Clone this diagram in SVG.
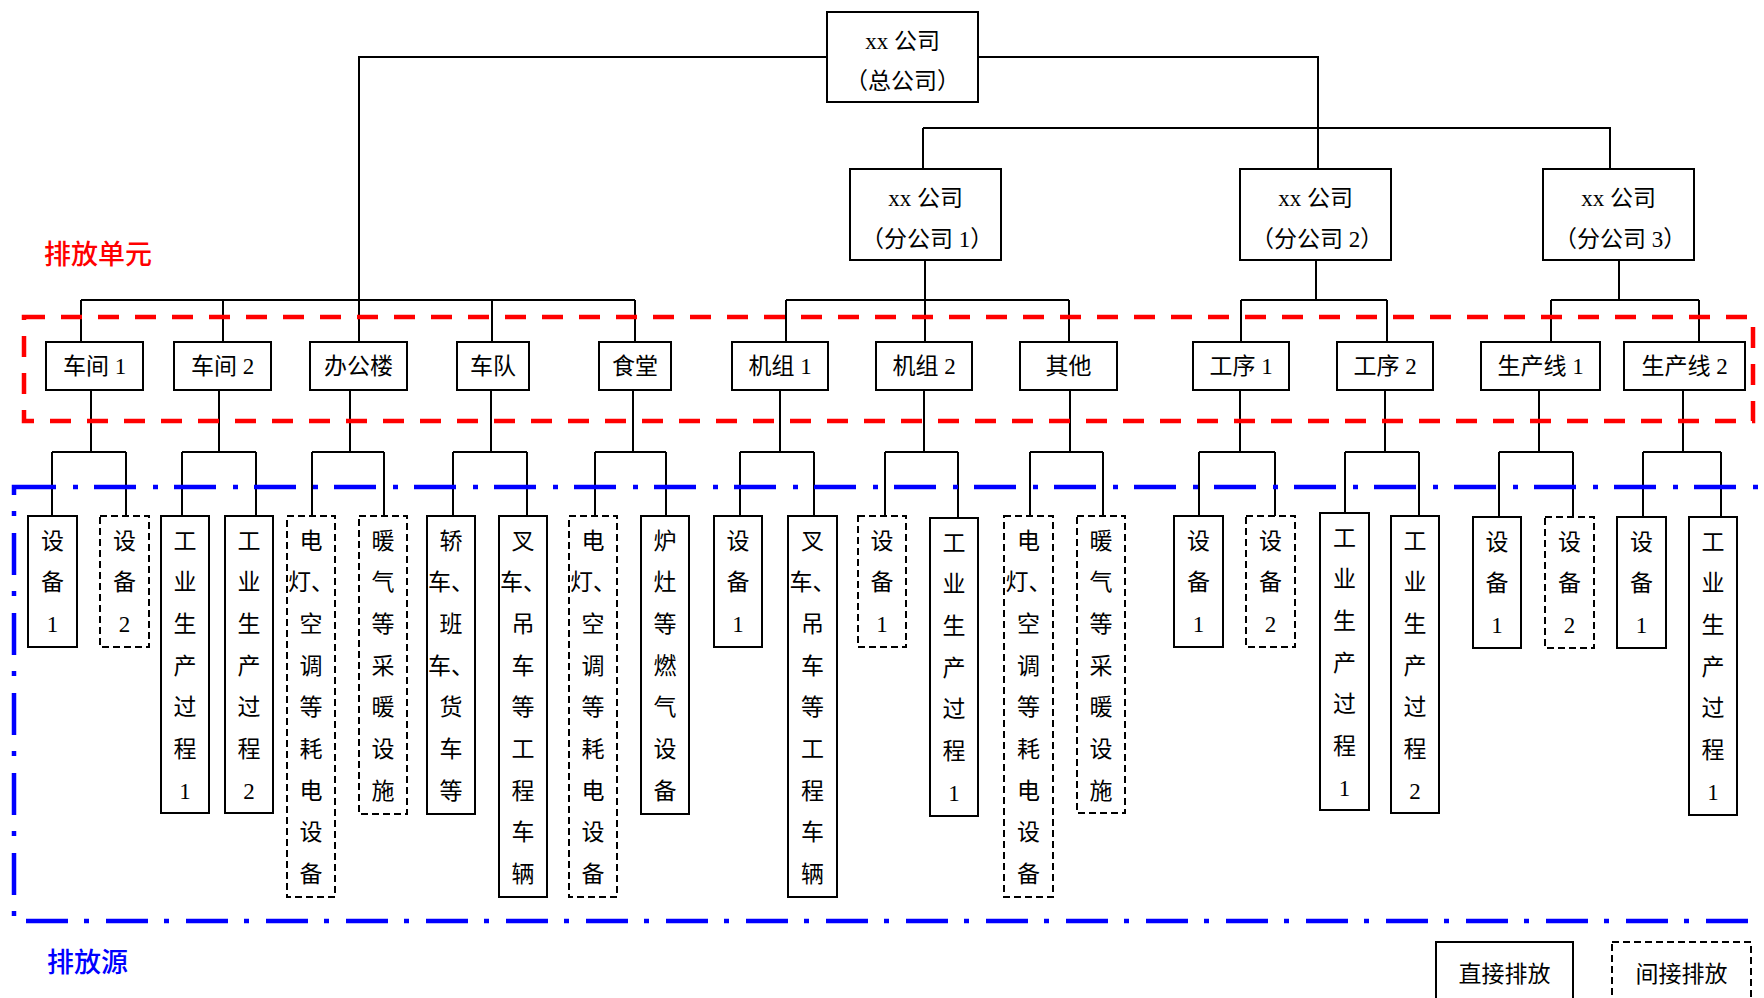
<svg xmlns="http://www.w3.org/2000/svg" width="1764" height="998" viewBox="0 0 1764 998">
<style>
.b{fill:#fff;stroke:#000;stroke-width:2}
.d{fill:#fff;stroke:#000;stroke-width:2;stroke-dasharray:7 4}
.c{fill:none;stroke:#000;stroke-width:2}
.t{font-family:'Liberation Serif','Noto Sans CJK SC',serif;font-size:23px;text-anchor:middle;fill:#000}
.lab{font-family:'Noto Sans CJK SC',sans-serif;font-size:27px;font-weight:500}
</style>
<rect width="1764" height="998" fill="#fff"/>
<g id="connectors" class="c">
<path d="M827 57H359V342M978 57H1318V169M923 128H1610V169M923 128V169"/>
<path d="M81 300H635M81 300V342M223 300V342M492 300V342M635 300V342"/>
<path d="M925 260V342M786 300H1069M786 300V342M1069 300V342"/>
<path d="M1316 260V300M1241 300H1387M1241 300V342M1387 300V342"/>
<path d="M1619 260V300M1551 300H1699M1551 300V342M1699 300V342"/>
<path d="M91 390V452M52 452H126M52 452V516M126 452V516"/>
<path d="M219 390V452M182 452H256M182 452V516M256 452V516"/>
<path d="M350 390V452M312 452H384M312 452V516M384 452V516"/>
<path d="M491 390V452M453 452H527M453 452V516M527 452V516"/>
<path d="M633 390V452M595 452H666M595 452V516M666 452V516"/>
<path d="M780 390V452M740 452H814M740 452V516M814 452V516"/>
<path d="M924 390V452M885 452H958M885 452V516M958 452V518"/>
<path d="M1070 390V452M1030 452H1103M1030 452V516M1103 452V516"/>
<path d="M1240 390V452M1199 452H1275M1199 452V516M1275 452V516"/>
<path d="M1385 390V452M1345 452H1419M1345 452V513M1419 452V516"/>
<path d="M1539 390V452M1499 452H1573M1499 452V517M1573 452V517"/>
<path d="M1683 390V452M1643 452H1721M1643 452V517M1721 452V517"/>
</g>
<g id="regions">
<rect x="24" y="317" width="1729" height="104" fill="none" stroke="#f00" stroke-width="4.5" stroke-dasharray="21 16"/>
<rect x="14" y="487" width="1770" height="434" fill="none" stroke="#00f" stroke-width="4.5" stroke-dasharray="42 17 5 16"/>
<text class="lab" x="44" y="264" fill="#f00">排放单元</text>
<text class="lab" x="47" y="972" fill="#00f">排放源</text>
</g>
<g id="hq"><rect class="b" x="827" y="12" width="151" height="90"/><text class="t" x="902.5" y="49">xx 公司</text><text class="t" x="902.5" y="89">（总公司）</text></g>
<g id="sub1"><rect class="b" x="850" y="169" width="151" height="91"/><text class="t" x="925.5" y="206">xx 公司</text><text class="t" x="927" y="247">（分公司 1）</text></g>
<g id="sub2"><rect class="b" x="1240" y="169" width="151" height="91"/><text class="t" x="1315.5" y="206">xx 公司</text><text class="t" x="1317" y="247">（分公司 2）</text></g>
<g id="sub3"><rect class="b" x="1543" y="169" width="151" height="91"/><text class="t" x="1618.5" y="206">xx 公司</text><text class="t" x="1620" y="247">（分公司 3）</text></g>
<g id="u1"><rect class="b" x="46" y="342" width="97" height="48"/><text class="t" x="94.5" y="374">车间 1</text></g>
<g id="u2"><rect class="b" x="174" y="342" width="97" height="48"/><text class="t" x="222.5" y="374">车间 2</text></g>
<g id="u3"><rect class="b" x="310" y="342" width="97" height="48"/><text class="t" x="358.5" y="374">办公楼</text></g>
<g id="u4"><rect class="b" x="457" y="342" width="72" height="48"/><text class="t" x="493" y="374">车队</text></g>
<g id="u5"><rect class="b" x="599" y="342" width="72" height="48"/><text class="t" x="635" y="374">食堂</text></g>
<g id="u6"><rect class="b" x="732" y="342" width="96" height="48"/><text class="t" x="780" y="374">机组 1</text></g>
<g id="u7"><rect class="b" x="876" y="342" width="96" height="48"/><text class="t" x="924" y="374">机组 2</text></g>
<g id="u8"><rect class="b" x="1020" y="342" width="97" height="48"/><text class="t" x="1068.5" y="374">其他</text></g>
<g id="u9"><rect class="b" x="1193" y="342" width="96" height="48"/><text class="t" x="1241" y="374">工序 1</text></g>
<g id="u10"><rect class="b" x="1337" y="342" width="96" height="48"/><text class="t" x="1385" y="374">工序 2</text></g>
<g id="u11"><rect class="b" x="1481" y="342" width="119" height="48"/><text class="t" x="1540.5" y="374">生产线 1</text></g>
<g id="u12"><rect class="b" x="1624" y="342" width="121" height="48"/><text class="t" x="1684.5" y="374">生产线 2</text></g>
<g id="s1"><rect class="b" x="28" y="516" width="49" height="131"/><text class="t" x="52.5" y="548.5">设</text><text class="t" x="52.5" y="590.2">备</text><text class="t" x="52.5" y="631.9">1</text></g>
<g id="s2"><rect class="d" x="100" y="516" width="49" height="131"/><text class="t" x="124.5" y="548.5">设</text><text class="t" x="124.5" y="590.2">备</text><text class="t" x="124.5" y="631.9">2</text></g>
<g id="s3"><rect class="b" x="161" y="516" width="48" height="297"/><text class="t" x="185" y="548.5">工</text><text class="t" x="185" y="590.2">业</text><text class="t" x="185" y="631.9">生</text><text class="t" x="185" y="673.6">产</text><text class="t" x="185" y="715.3">过</text><text class="t" x="185" y="757">程</text><text class="t" x="185" y="798.7">1</text></g>
<g id="s4"><rect class="b" x="225" y="516" width="48" height="297"/><text class="t" x="249" y="548.5">工</text><text class="t" x="249" y="590.2">业</text><text class="t" x="249" y="631.9">生</text><text class="t" x="249" y="673.6">产</text><text class="t" x="249" y="715.3">过</text><text class="t" x="249" y="757">程</text><text class="t" x="249" y="798.7">2</text></g>
<g id="s5"><rect class="d" x="287" y="516" width="48" height="381"/><text class="t" x="311" y="548.5">电</text><text class="t" x="311" y="590.2">灯、</text><text class="t" x="311" y="631.9">空</text><text class="t" x="311" y="673.6">调</text><text class="t" x="311" y="715.3">等</text><text class="t" x="311" y="757">耗</text><text class="t" x="311" y="798.7">电</text><text class="t" x="311" y="840.4">设</text><text class="t" x="311" y="882.1">备</text></g>
<g id="s6"><rect class="d" x="359" y="516" width="48" height="298"/><text class="t" x="383" y="548.5">暖</text><text class="t" x="383" y="590.2">气</text><text class="t" x="383" y="631.9">等</text><text class="t" x="383" y="673.6">采</text><text class="t" x="383" y="715.3">暖</text><text class="t" x="383" y="757">设</text><text class="t" x="383" y="798.7">施</text></g>
<g id="s7"><rect class="b" x="427" y="516" width="48" height="298"/><text class="t" x="451" y="548.5">轿</text><text class="t" x="451" y="590.2">车、</text><text class="t" x="451" y="631.9">班</text><text class="t" x="451" y="673.6">车、</text><text class="t" x="451" y="715.3">货</text><text class="t" x="451" y="757">车</text><text class="t" x="451" y="798.7">等</text></g>
<g id="s8"><rect class="b" x="499" y="516" width="48" height="381"/><text class="t" x="523" y="548.5">叉</text><text class="t" x="523" y="590.2">车、</text><text class="t" x="523" y="631.9">吊</text><text class="t" x="523" y="673.6">车</text><text class="t" x="523" y="715.3">等</text><text class="t" x="523" y="757">工</text><text class="t" x="523" y="798.7">程</text><text class="t" x="523" y="840.4">车</text><text class="t" x="523" y="882.1">辆</text></g>
<g id="s9"><rect class="d" x="569" y="516" width="48" height="381"/><text class="t" x="593" y="548.5">电</text><text class="t" x="593" y="590.2">灯、</text><text class="t" x="593" y="631.9">空</text><text class="t" x="593" y="673.6">调</text><text class="t" x="593" y="715.3">等</text><text class="t" x="593" y="757">耗</text><text class="t" x="593" y="798.7">电</text><text class="t" x="593" y="840.4">设</text><text class="t" x="593" y="882.1">备</text></g>
<g id="s10"><rect class="b" x="641" y="516" width="48" height="298"/><text class="t" x="665" y="548.5">炉</text><text class="t" x="665" y="590.2">灶</text><text class="t" x="665" y="631.9">等</text><text class="t" x="665" y="673.6">燃</text><text class="t" x="665" y="715.3">气</text><text class="t" x="665" y="757">设</text><text class="t" x="665" y="798.7">备</text></g>
<g id="s11"><rect class="b" x="714" y="516" width="48" height="131"/><text class="t" x="738" y="548.5">设</text><text class="t" x="738" y="590.2">备</text><text class="t" x="738" y="631.9">1</text></g>
<g id="s12"><rect class="b" x="788" y="516" width="49" height="381"/><text class="t" x="812.5" y="548.5">叉</text><text class="t" x="812.5" y="590.2">车、</text><text class="t" x="812.5" y="631.9">吊</text><text class="t" x="812.5" y="673.6">车</text><text class="t" x="812.5" y="715.3">等</text><text class="t" x="812.5" y="757">工</text><text class="t" x="812.5" y="798.7">程</text><text class="t" x="812.5" y="840.4">车</text><text class="t" x="812.5" y="882.1">辆</text></g>
<g id="s13"><rect class="d" x="858" y="516" width="48" height="131"/><text class="t" x="882" y="548.5">设</text><text class="t" x="882" y="590.2">备</text><text class="t" x="882" y="631.9">1</text></g>
<g id="s14"><rect class="b" x="930" y="518" width="48" height="298"/><text class="t" x="954" y="550.5">工</text><text class="t" x="954" y="592.2">业</text><text class="t" x="954" y="633.9">生</text><text class="t" x="954" y="675.6">产</text><text class="t" x="954" y="717.3">过</text><text class="t" x="954" y="759">程</text><text class="t" x="954" y="800.7">1</text></g>
<g id="s15"><rect class="d" x="1004" y="516" width="49" height="381"/><text class="t" x="1028.5" y="548.5">电</text><text class="t" x="1028.5" y="590.2">灯、</text><text class="t" x="1028.5" y="631.9">空</text><text class="t" x="1028.5" y="673.6">调</text><text class="t" x="1028.5" y="715.3">等</text><text class="t" x="1028.5" y="757">耗</text><text class="t" x="1028.5" y="798.7">电</text><text class="t" x="1028.5" y="840.4">设</text><text class="t" x="1028.5" y="882.1">备</text></g>
<g id="s16"><rect class="d" x="1077" y="516" width="48" height="297"/><text class="t" x="1101" y="548.5">暖</text><text class="t" x="1101" y="590.2">气</text><text class="t" x="1101" y="631.9">等</text><text class="t" x="1101" y="673.6">采</text><text class="t" x="1101" y="715.3">暖</text><text class="t" x="1101" y="757">设</text><text class="t" x="1101" y="798.7">施</text></g>
<g id="s17"><rect class="b" x="1174" y="516" width="49" height="131"/><text class="t" x="1198.5" y="548.5">设</text><text class="t" x="1198.5" y="590.2">备</text><text class="t" x="1198.5" y="631.9">1</text></g>
<g id="s18"><rect class="d" x="1246" y="516" width="49" height="131"/><text class="t" x="1270.5" y="548.5">设</text><text class="t" x="1270.5" y="590.2">备</text><text class="t" x="1270.5" y="631.9">2</text></g>
<g id="s19"><rect class="b" x="1320" y="513" width="49" height="297"/><text class="t" x="1344.5" y="545.5">工</text><text class="t" x="1344.5" y="587.2">业</text><text class="t" x="1344.5" y="628.9">生</text><text class="t" x="1344.5" y="670.6">产</text><text class="t" x="1344.5" y="712.3">过</text><text class="t" x="1344.5" y="754">程</text><text class="t" x="1344.5" y="795.7">1</text></g>
<g id="s20"><rect class="b" x="1391" y="516" width="48" height="297"/><text class="t" x="1415" y="548.5">工</text><text class="t" x="1415" y="590.2">业</text><text class="t" x="1415" y="631.9">生</text><text class="t" x="1415" y="673.6">产</text><text class="t" x="1415" y="715.3">过</text><text class="t" x="1415" y="757">程</text><text class="t" x="1415" y="798.7">2</text></g>
<g id="s21"><rect class="b" x="1473" y="517" width="48" height="131"/><text class="t" x="1497" y="549.5">设</text><text class="t" x="1497" y="591.2">备</text><text class="t" x="1497" y="632.9">1</text></g>
<g id="s22"><rect class="d" x="1545" y="517" width="49" height="131"/><text class="t" x="1569.5" y="549.5">设</text><text class="t" x="1569.5" y="591.2">备</text><text class="t" x="1569.5" y="632.9">2</text></g>
<g id="s23"><rect class="b" x="1617" y="517" width="49" height="131"/><text class="t" x="1641.5" y="549.5">设</text><text class="t" x="1641.5" y="591.2">备</text><text class="t" x="1641.5" y="632.9">1</text></g>
<g id="s24"><rect class="b" x="1689" y="517" width="48" height="298"/><text class="t" x="1713" y="549.5">工</text><text class="t" x="1713" y="591.2">业</text><text class="t" x="1713" y="632.9">生</text><text class="t" x="1713" y="674.6">产</text><text class="t" x="1713" y="716.3">过</text><text class="t" x="1713" y="758">程</text><text class="t" x="1713" y="799.7">1</text></g>
<g id="legend-direct"><rect class="b" x="1436" y="942" width="137" height="80"/><text class="t" x="1504.5" y="982">直接排放</text></g>
<g id="legend-indirect"><rect class="d" x="1612" y="942" width="139" height="80"/><text class="t" x="1681.5" y="982">间接排放</text></g>
</svg>
